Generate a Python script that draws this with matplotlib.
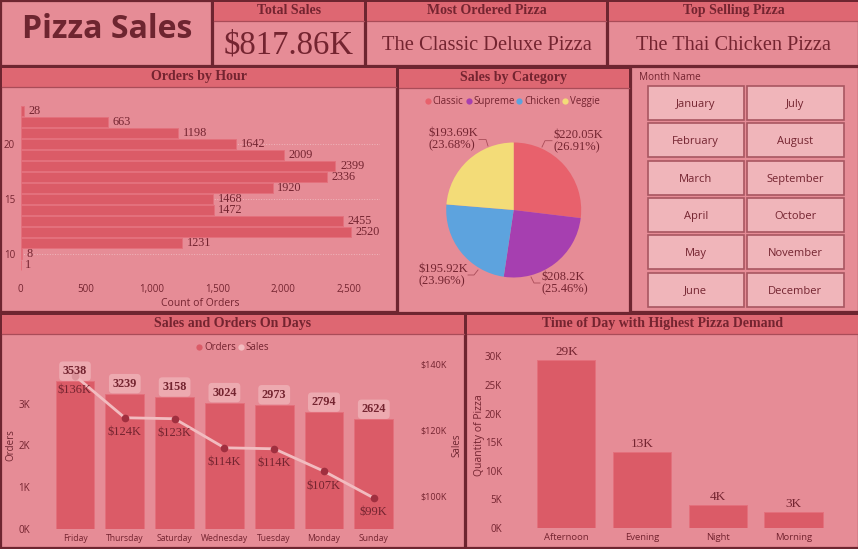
import matplotlib
matplotlib.use('Agg')
import matplotlib.pyplot as plt
from matplotlib.patches import Rectangle
from matplotlib.ticker import FuncFormatter

WIDTH = 858
HEIGHT = 549

BG = '#E68C96'
HEADER = '#DE6772'
BAR = '#DB5B67'
BAR_EDGE = '#E4707C'
DARK = '#6E2530'
TEXT = '#742430'
RULE = '#A94C58'
LIGHT = '#F0B5BA'
SANS = 'Open Sans'
SERIF = 'Liberation Serif'

kpi_titles = ['Total Sales', 'Most Ordered Pizza', 'Top Selling Pizza']
kpi_values = ['$817.86K', 'The Classic Deluxe Pizza', 'The Thai Chicken Pizza']

hours = [23, 22, 21, 20, 19, 18, 17, 16, 15, 14, 13, 12, 11, 10, 9]
hour_orders = [28, 663, 1198, 1642, 2009, 2399, 2336, 1920, 1468, 1472, 2455, 2520, 1231, 8, 1]

categories = ['Classic', 'Supreme', 'Chicken', 'Veggie']
category_sales = [220.05, 208.2, 195.92, 193.69]
category_pct = [26.91, 25.46, 23.96, 23.68]
category_colors = ['#E8616C', '#A63FB0', '#5DA3DE', '#F3DC78']

months_left = ['January', 'February', 'March', 'April', 'May', 'June']
months_right = ['July', 'August', 'September', 'October', 'November', 'December']

days = ['Friday', 'Thursday', 'Saturday', 'Wednesday', 'Tuesday', 'Monday', 'Sunday']
day_orders = [3538, 3239, 3158, 3024, 2973, 2794, 2624]
day_sales = [136.3, 123.6, 123.3, 114.5, 114.2, 107.4, 99.3]

times = ['Afternoon', 'Evening', 'Night', 'Morning']
time_qty = [29400, 13300, 4000, 2800]


def px_axes(fig, left, top, right, bottom, **kwargs):
    return fig.add_axes([left / WIDTH, 1 - bottom / HEIGHT, (right - left) / WIDTH, (bottom - top) / HEIGHT], **kwargs)


def panel(canvas, left, top, right, bottom, title=None, header=20):
    canvas.add_patch(Rectangle((left, top), right - left, bottom - top, fc=BG, ec=DARK, lw=1.6))
    if title is None:
        return
    canvas.add_patch(Rectangle((left + 1, top + 1), right - left - 2, header - 1, fc=HEADER, ec='none'))
    canvas.plot([left + 1, right - 1], [top + header, top + header], color=RULE, lw=0.9)
    canvas.text((left + right) / 2, top + 9.5, title, family=SERIF, weight='bold', fontsize=10,
                color=TEXT, ha='center', va='center')


def clean_axes(ax, size=7):
    ax.patch.set_alpha(0)
    for spine in ax.spines.values():
        spine.set_visible(False)
    ax.tick_params(length=0, labelsize=size, labelcolor=TEXT)


def draw_panels(canvas):
    panel(canvas, 1, 1, 212, 66)
    canvas.text(107, 30, 'Pizza Sales', family=SANS, weight='bold', fontsize=23, color=DARK, ha='center', va='center')

    kpi_boxes = [(213, 365, 23.5), (366, 607, 14.8), (608, 859, 14.6)]
    for (left, right, size), title, value in zip(kpi_boxes, kpi_titles, kpi_values):
        panel(canvas, left, 1, right, 66, title)
        center = (left + right) / 2 if right < 858 else 733
        canvas.text(center, 45.5, value, family=SERIF, fontsize=size, color=TEXT, ha='center', va='center')

    panel(canvas, 1, 67, 397, 312, 'Orders by Hour')
    panel(canvas, 398, 68, 630, 313, 'Sales by Category')
    panel(canvas, 631, 67, 859, 312)
    panel(canvas, 1, 314, 465, 548, 'Sales and Orders On Days')
    panel(canvas, 466, 314, 859, 548, 'Time of Day with Highest Pizza Demand')


def draw_hours(fig):
    ax = px_axes(fig, 20.5, 105.5, 380, 270.5)
    clean_axes(ax)
    ax.barh(hours, hour_orders, height=0.82, color=BAR, edgecolor=BAR_EDGE, lw=0.7)
    for hour, value in zip(hours, hour_orders):
        ax.text(value + 35, hour, str(value), family=SERIF, fontsize=8.8, color=TEXT, va='center')
    ax.set_xlim(0, 2738)
    ax.set_ylim(8.5, 23.5)
    ax.set_xticks([0, 500, 1000, 1500, 2000, 2500])
    ax.xaxis.set_major_formatter(FuncFormatter(lambda v, _: f'{int(v):,}'))
    ax.set_yticks([10, 15, 20])
    ax.tick_params(axis='x', pad=10)
    ax.tick_params(axis='y', pad=4)
    ax.grid(axis='y', color='#EFB7BC', lw=0.7, ls=':')
    ax.set_axisbelow(True)
    ax.set_xlabel('Count of Orders', family=SANS, fontsize=7.5, color=TEXT, labelpad=2)
    for label in ax.get_xticklabels() + ax.get_yticklabels():
        label.set_family(SANS)


def draw_pie(fig, canvas):
    ax = px_axes(fig, 446.2, 142.5, 581.2, 277.5)
    ax.pie(category_sales, colors=category_colors, startangle=90, counterclock=False, radius=1.0)
    ax.set_xlim(-1, 1)
    ax.set_ylim(-1, 1)

    legend_dots = [427.7, 468.7, 519.3, 565.3]
    for x, name, color in zip(legend_dots, categories, category_colors):
        canvas.plot(x, 101.3, 'o', ms=4.5, color=color, mec='none')
        canvas.text(x + 5, 101.3, name, family=SANS, fontsize=7, color=TEXT, va='center')

    label_spots = [(554, 141, 'left'), (541.7, 283, 'left'), (443.5, 275, 'center'), (453, 139.5, 'center')]
    leaders = [
        ([542, 545, 552], [147, 140.7, 140.7]),
        ([531, 534, 540], [277, 283, 283]),
        ([478, 474, 468], [270, 275, 275]),
        ([488, 486, 479], [146, 139.5, 139.5]),
    ]
    for spot, leader, value, pct in zip(label_spots, leaders, category_sales, category_pct):
        canvas.plot(leader[0], leader[1], color=RULE, lw=0.6)
        canvas.text(spot[0], spot[1], f'${value}K\n({pct}%)', family=SERIF, fontsize=9, color=TEXT,
                    ha=spot[2], va='center', multialignment='left', linespacing=1.05)


def draw_slicer(canvas):
    canvas.text(639, 77.5, 'Month Name', family=SANS, fontsize=7.2, color=TEXT, va='center')
    column_edges = [(647.5, 744), (747, 843.5)]
    for (left, right), names in zip(column_edges, [months_left, months_right]):
        for row, name in enumerate(names):
            top = 86 + row * 37.3
            canvas.add_patch(Rectangle((left, top), right - left, 34, fc=LIGHT, ec='#A85661', lw=1.2))
            canvas.text((left + right) / 2, top + 18.5, name, family=SANS, fontsize=8, color=TEXT, ha='center', va='center')


def draw_days(fig, canvas):
    ax = px_axes(fig, 50.1, 355, 398.7, 528.7)
    clean_axes(ax)
    positions = range(len(days))
    ax.bar(positions, day_orders, width=0.78, color=BAR, edgecolor=BAR_EDGE, lw=0.7)
    ax.set_xlim(-0.5, 6.5)
    ax.set_ylim(0, 4165)
    ax.set_xticks(list(positions), days)
    ax.set_yticks([0, 1000, 2000, 3000], ['0K', '1K', '2K', '3K'])
    ax.tick_params(axis='y', pad=14.5)
    ax.tick_params(axis='x', pad=3.5, labelsize=6.2)
    ax.set_ylabel('Orders', family=SANS, fontsize=7, color=DARK)
    ax.yaxis.set_label_coords(-0.0975, 0.48)

    sales_ax = ax.twinx()
    clean_axes(sales_ax, size=6.5)
    sales_ax.plot(positions, day_sales, color='#F2BCC0', lw=2, zorder=2)
    sales_ax.plot(positions, day_sales, 'o', ms=5.5, color='#A02F3F', mec='none', zorder=3)
    sales_ax.set_ylim(90, 142.6)
    sales_ax.set_yticks([100, 120, 140], ['$100K', '$120K', '$140K'])
    sales_ax.tick_params(axis='y', pad=16)
    sales_ax.set_ylabel('Sales', family=SANS, fontsize=7, color=DARK)
    sales_ax.yaxis.set_label_coords(1.15, 0.48)

    for x, orders, sales in zip(positions, day_orders, day_sales):
        sales_ax.annotate(f'${round(sales)}K', (x, sales), xytext=(0, -10.4), textcoords='offset points',
                          family=SERIF, fontsize=9, color=TEXT, ha='center', va='center', zorder=4)
        # order labels sit over the line, so they go on the top axes but use the bar scale
        sales_ax.annotate(str(orders), (x, orders), xycoords=ax.transData, xytext=(0, 7.2), textcoords='offset points',
                          family=SERIF, weight='bold', fontsize=8.8, color=TEXT, ha='center', va='center', zorder=5,
                          bbox=dict(boxstyle='round,pad=0.3', fc='#F0B5BA', ec='none', alpha=0.75))

    for axis in (ax, sales_ax):
        for label in axis.get_xticklabels() + axis.get_yticklabels():
            label.set_family(SANS)

    canvas.plot(199, 347, 'o', ms=4.5, color=BAR, mec='none')
    canvas.text(204, 347, 'Orders', family=SANS, fontsize=7, color=TEXT, va='center')
    canvas.plot(240.5, 347, 'o', ms=4.5, color='#F2BCC0', mec='none')
    canvas.text(245.5, 347, 'Sales', family=SANS, fontsize=7, color=TEXT, va='center')


def draw_times(fig):
    ax = px_axes(fig, 528.5, 345, 831.3, 528)
    clean_axes(ax)
    positions = range(len(times))
    ax.bar(positions, time_qty, width=0.77, color=BAR, edgecolor=BAR_EDGE, lw=0.7)
    for x, value in zip(positions, time_qty):
        ax.text(x, value + 400, f'{round(value / 1000)}K', family=SERIF, fontsize=9.5, color=TEXT, ha='center', va='bottom')
    ax.set_xlim(-0.5, 3.5)
    ax.set_ylim(0, 32000)
    ax.set_xticks(list(positions), times)
    ax.set_yticks([0, 5000, 10000, 15000, 20000, 25000, 30000], ['0K', '5K', '10K', '15K', '20K', '25K', '30K'])
    ax.tick_params(axis='y', pad=19)
    ax.tick_params(axis='x', pad=3.5, labelsize=6.8)
    ax.set_ylabel('Quantity of Pizza', family=SANS, fontsize=7.5, color=TEXT)
    ax.yaxis.set_label_coords(-0.145, 0.51)
    for label in ax.get_xticklabels() + ax.get_yticklabels():
        label.set_family(SANS)


def main():
    fig = plt.figure(figsize=(WIDTH / 100, HEIGHT / 100), dpi=100, facecolor=BG)

    canvas = fig.add_axes([0, 0, 1, 1])
    canvas.set_xlim(0, WIDTH)
    canvas.set_ylim(HEIGHT, 0)
    canvas.axis('off')

    draw_panels(canvas)
    draw_hours(fig)
    draw_pie(fig, canvas)
    draw_slicer(canvas)
    draw_days(fig, canvas)
    draw_times(fig)

    fig.savefig('out.png', dpi=100)


if __name__ == '__main__':
    main()
